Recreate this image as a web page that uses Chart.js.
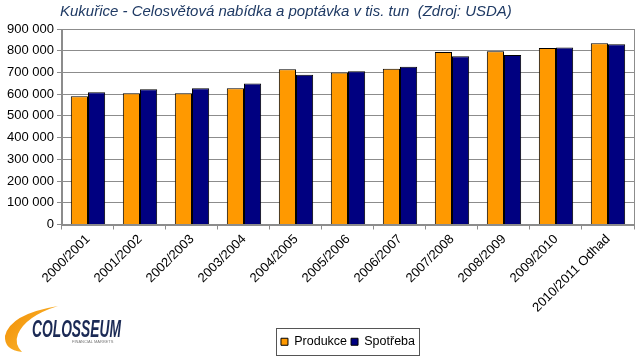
<!DOCTYPE html>
<html>
<head>
<meta charset="utf-8">
<script src="https://cdn.jsdelivr.net/npm/chart.js@4.4.1/dist/chart.umd.min.js"></script>
<style>
    html, body { margin: 0; padding: 0; background: #fff; }
    #wrap { position: relative; width: 640px; height: 358px; }
</style>
</head>
<body>
<div id="wrap"><canvas id="chart" width="640" height="358"></canvas></div>
<script>
// --- DATA ---
const categories = ['2000/2001', '2001/2002', '2002/2003', '2003/2004', '2004/2005', '2005/2006',
    '2006/2007', '2007/2008', '2008/2009', '2009/2010', '2010/2011 Odhad'];
const produkce = [590000, 604000, 604000, 627000, 715000, 700000, 717000, 794000, 797000, 812000, 834000];
const spotreba = [609000, 623000, 627000, 649000, 689000, 706000, 726000, 775000, 780000, 815000, 830000];
const yTicks = [0, 100000, 200000, 300000, 400000, 500000, 600000, 700000, 800000, 900000];
const titleText = 'Kukuřice - Celosvětová nabídka a poptávka v tis. tun  (Zdroj: USDA)';

const formatNumber = (n) => String(n).replace(/\B(?=(\d{3})+(?!\d))/g, ' ');
const FONT = '"Liberation Sans", Arial, sans-serif';

// --- PLUGINS ---
const decorPlugin = {
    id: 'decor',
    afterDraw(chart) {
        const { ctx, chartArea } = chart;
        ctx.save();

        // plot border
        ctx.strokeStyle = '#8c8c8c';
        ctx.lineWidth = 1;
        ctx.strokeRect(Math.round(chartArea.left) + 0.5, Math.round(chartArea.top) + 0.5,
            Math.round(chartArea.right - chartArea.left), Math.round(chartArea.bottom - chartArea.top));

        // title
        ctx.fillStyle = '#1f3a64';
        ctx.font = `italic 15px ${FONT}`;
        ctx.textBaseline = 'middle';
        ctx.fillText(titleText, 60, 12);

        // legend frame
        const boxes = chart.legend.legendHitBoxes;
        if (boxes && boxes.length) {
            const l = Math.min(...boxes.map(b => b.left)) - 5;
            const r = Math.max(...boxes.map(b => b.left + b.width)) + 4;
            const cy = (Math.min(...boxes.map(b => b.top)) + Math.max(...boxes.map(b => b.top + b.height))) / 2;
            ctx.strokeStyle = '#555';
            ctx.strokeRect(Math.round(l) + 0.5, Math.round(cy - 13.5) + 0.5, Math.round(r - l), 27);
        }

        // logo swoosh
        const grad = ctx.createLinearGradient(5, 305, 60, 355);
        grad.addColorStop(0, '#f08a00');
        grad.addColorStop(1, '#ffc640');
        ctx.fillStyle = grad;
        ctx.beginPath();
        ctx.moveTo(58, 306);
        ctx.quadraticCurveTo(10, 314, 5, 336);
        ctx.quadraticCurveTo(4, 350, 22, 352);
        ctx.quadraticCurveTo(14, 344, 18, 334);
        ctx.quadraticCurveTo(26, 316, 58, 306);
        ctx.fill();

        // logo text
        ctx.fillStyle = '#1b2a55';
        ctx.textBaseline = 'alphabetic';
        ctx.save();
        ctx.translate(32, 337);
        ctx.scale(0.6, 1);
        ctx.font = `italic bold 23px ${FONT}`;
        ctx.fillText('COLOSSEUM', 0, 0);
        ctx.restore();
        ctx.font = `4px ${FONT}`;
        ctx.fillStyle = '#777';
        ctx.fillText('FINANCIAL MARKETS', 72, 343);

        ctx.restore();
    }
};

// --- CHART ---
new Chart(document.getElementById('chart'), {
    type: 'bar',
    data: {
        labels: categories,
        datasets: [
            {
                label: 'Produkce',
                data: produkce,
                backgroundColor: '#ff9900',
                borderColor: '#000',
                borderWidth: 1,
                categoryPercentage: 0.66,
                barPercentage: 1.0,
            },
            {
                label: 'Spotřeba',
                data: spotreba,
                backgroundColor: '#000080',
                borderColor: '#000',
                borderWidth: 1,
                categoryPercentage: 0.66,
                barPercentage: 1.0,
            }
        ]
    },
    options: {
        responsive: false,
        animation: false,
        layout: { padding: { top: 29, right: 6, left: 4, bottom: 0 } },
        plugins: {
            legend: {
                position: 'bottom',
                fullSize: false,
                labels: {
                    boxWidth: 7,
                    boxHeight: 7,
                    padding: 4,
                    color: '#000',
                    font: { family: FONT, size: 12.5 }
                }
            },
            tooltip: { enabled: false }
        },
        scales: {
            x: {
                grid: { offset: true, drawOnChartArea: false, tickLength: 5, color: '#8c8c8c' },
                border: { color: '#8c8c8c' },
                ticks: {
                    minRotation: 45,
                    maxRotation: 45,
                    color: '#000',
                    padding: 2,
                    font: { family: FONT, size: 13 }
                },
                afterFit: (scale) => { scale.height = 107; }
            },
            y: {
                min: 0,
                max: 900000,
                afterBuildTicks: (scale) => { scale.ticks = yTicks.map(v => ({ value: v })); },
                grid: { color: '#8c8c8c', tickLength: 5 },
                border: { color: '#8c8c8c' },
                ticks: {
                    color: '#000',
                    padding: 3,
                    callback: (v) => formatNumber(v),
                    font: { family: FONT, size: 13 }
                }
            }
        }
    },
    plugins: [decorPlugin]
});
</script>
</body>
</html>
